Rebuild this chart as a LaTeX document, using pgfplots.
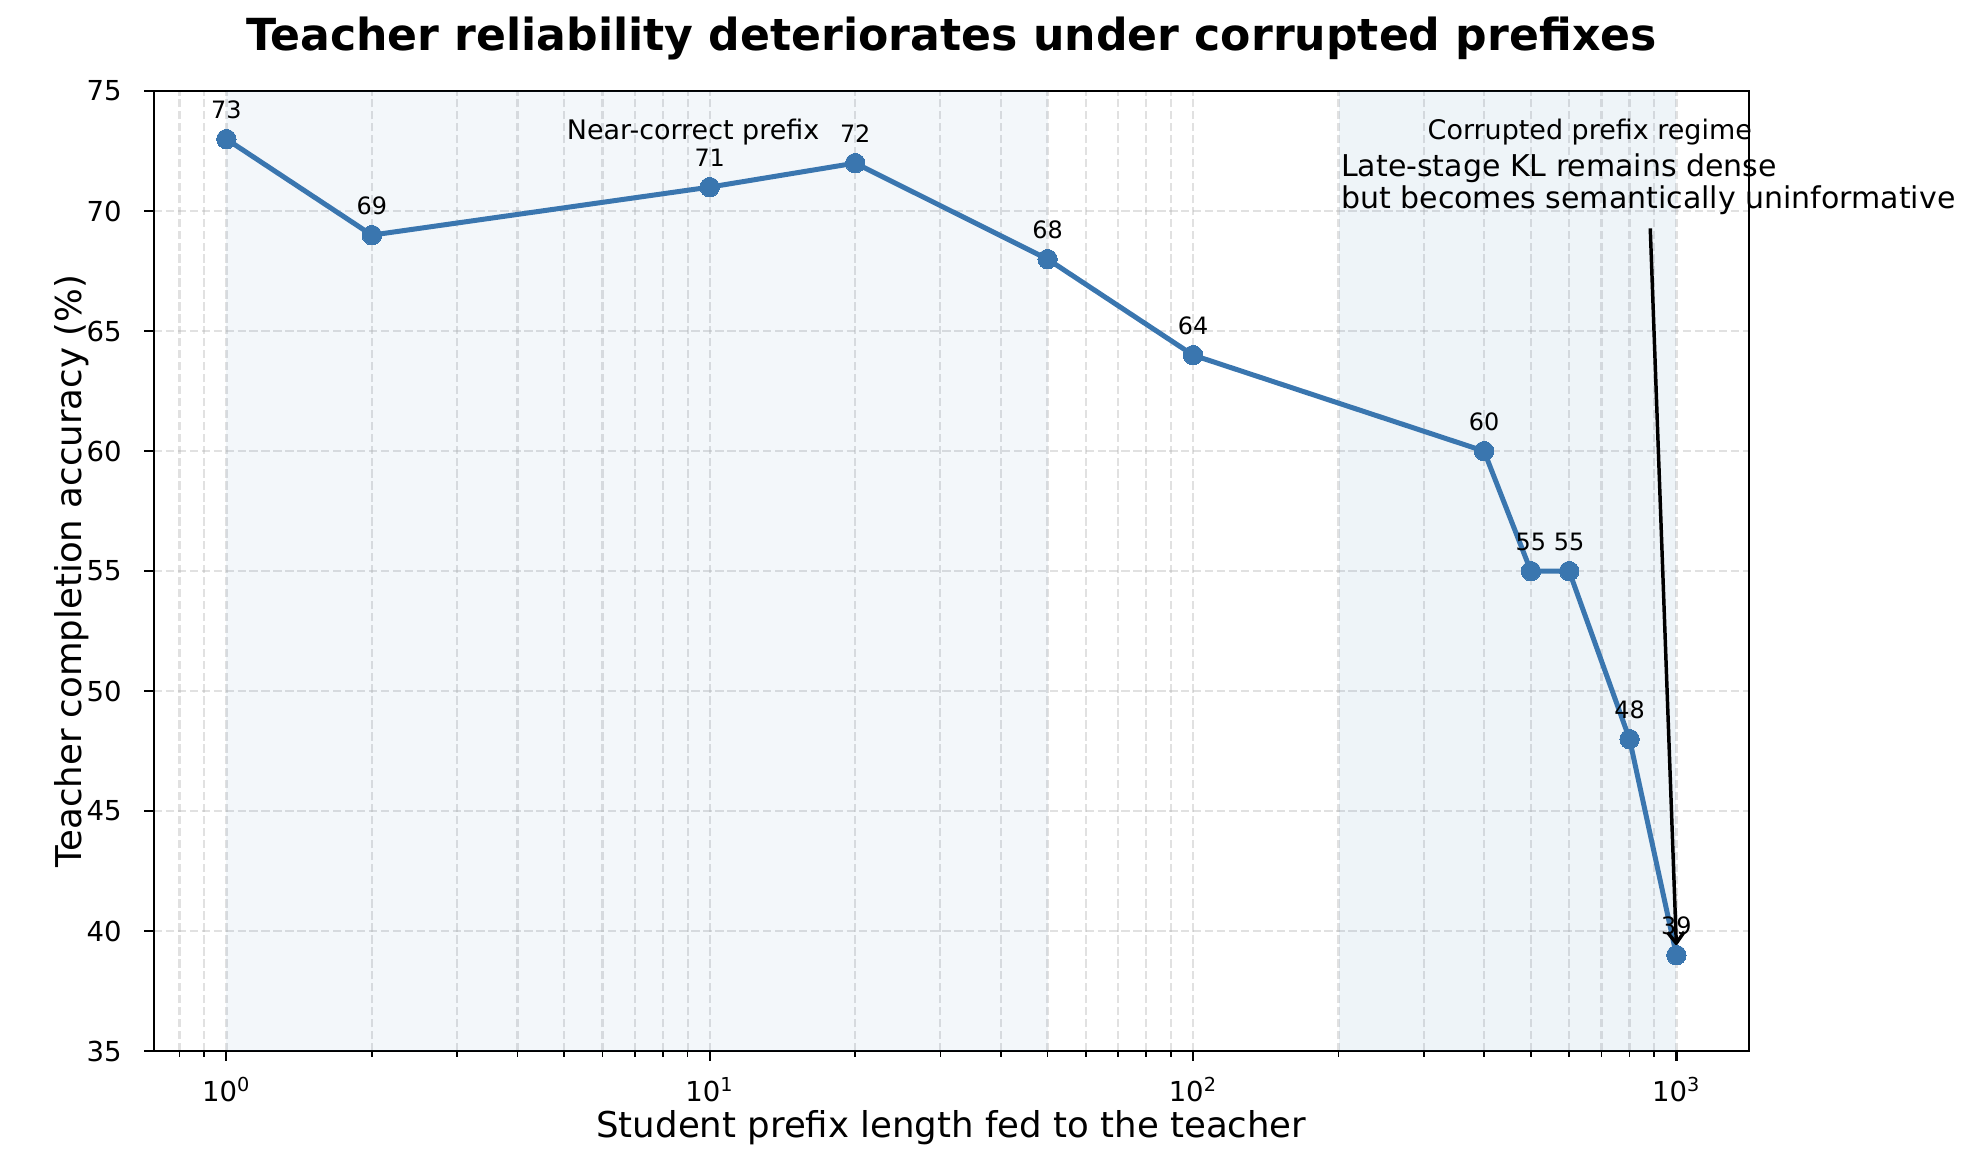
\documentclass[border=0pt]{standalone}
\usepackage{pgfplots}
\pgfplotsset{compat=1.18}
\usepackage{fontspec}
\setmainfont{DejaVu Sans}
\usetikzlibrary{arrows.meta}

\definecolor{lineblue}{RGB}{58,118,175}
\definecolor{spanblue}{RGB}{70,130,180}
\definecolor{gridgray}{RGB}{176,176,176}

% accuracy of the teacher vs. student prefix length
\pgfplotstableread{
len acc
1    73
2    69
10   71
20   72
50   68
100  64
400  60
500  55
600  55
800  48
1000 39
}\acctable

\newcommand{\fs}[1]{\fontsize{#1}{1.2\dimexpr#1\relax}\selectfont}

\begin{document}
\begin{tikzpicture}
\useasboundingbox (-55.4bp,-40.7bp) rectangle (650.9bp,378.4bp);
\begin{axis}[
  scale only axis,
  width=574.2bp, height=345.6bp,
  xmode=log,
  xmin=0.708, xmax=1413,
  ymin=35, ymax=75,
  ytick={35,40,...,75},
  xtick={1,10,100,1000},
  xticklabels={10\textsuperscript{0},10\textsuperscript{1},10\textsuperscript{2},10\textsuperscript{3}},
  minor xtick={0.8,0.9,2,3,4,5,6,7,8,9,20,30,40,50,60,70,80,90,200,300,400,500,600,700,800,900},
  tick pos=left,
  tick align=outside,
  major tick length=3.45bp,
  minor tick length=1.97bp,
  every tick/.style={black, line width=0.79bp},
  every minor tick/.append style={line width=0.6bp},
  axis line style={line width=0.79bp},
  grid=both,
  xminorgrids=true,
  yminorgrids=false,
  major grid style={gridgray, opacity=0.38, line width=0.8bp, dash pattern=on 3bp off 1.3bp},
  minor grid style={gridgray, opacity=0.38, line width=0.8bp, dash pattern=on 3bp off 1.3bp},
  /pgf/number format/assume math mode=true,
  ticklabel style={font=\fs{9.9bp}},
  yticklabel style={anchor=east, inner sep=0pt, xshift=-8bp},
  xticklabel style={anchor=base, inner sep=0pt, yshift=-14.8bp},
  title={Teacher reliability deteriorates under corrupted prefixes},
  title style={at={(axis description cs:0.5,1)}, anchor=base, inner sep=0pt, yshift=8.7bp, font=\fs{15.9bp}\bfseries},
  xlabel={Student prefix length fed to the teacher},
  xlabel style={at={(axis description cs:0.5,0)}, anchor=base, inner sep=0pt, yshift=-31bp, font=\fs{12.8bp}},
  ylabel={Teacher completion accuracy (\%)},
  ylabel style={at={(axis description cs:-0.0451,0.5)}, anchor=base, inner sep=0pt, font=\fs{12.8bp}},
  clip=false,
]
% regime shading
\addplot[draw=none, fill=spanblue, fill opacity=0.065] coordinates {(1,35) (50,35) (50,75) (1,75)} -- cycle;
\addplot[draw=none, fill=spanblue, fill opacity=0.09] coordinates {(200,35) (1000,35) (1000,75) (200,75)} -- cycle;

% accuracy curve with value labels
\addplot[
  lineblue, line width=1.8bp,
  mark=*, mark size=3.5bp, mark options={fill=lineblue, draw=lineblue, line width=0pt},
  point meta=y,
  nodes near coords={\pgfmathprintnumber[fixed,precision=0]{\pgfplotspointmeta}},
  every node near coord/.style={anchor=base, inner sep=0pt, yshift=7.5bp, font=\fs{8.6bp}, text=black},
] table[x=len, y=acc] {\acctable};

% regime labels
\node[anchor=base, inner sep=0pt, font=\fs{9.7bp}] at (axis cs:9.24,73.0) {Near-correct prefix};
\node[anchor=base, inner sep=0pt, font=\fs{9.7bp}] at (axis cs:662,73.0) {Corrupted prefix regime};

% annotation with arrow to the last point
\draw[black, line width=1.25bp, -{Straight Barb[length=4bp, width=6bp, line width=1.25bp]}]
  (axis cs:883,69.28) -- (axis cs:1000,39.375);
\node[anchor=base west, inner sep=0pt, font=\fs{10.8bp}] at (axis cs:202,71.43) {Late-stage KL remains dense};
\node[anchor=base west, inner sep=0pt, font=\fs{10.8bp}] at (axis cs:202,70.11) {but becomes semantically uninformative};
\end{axis}
\end{tikzpicture}
\end{document}
